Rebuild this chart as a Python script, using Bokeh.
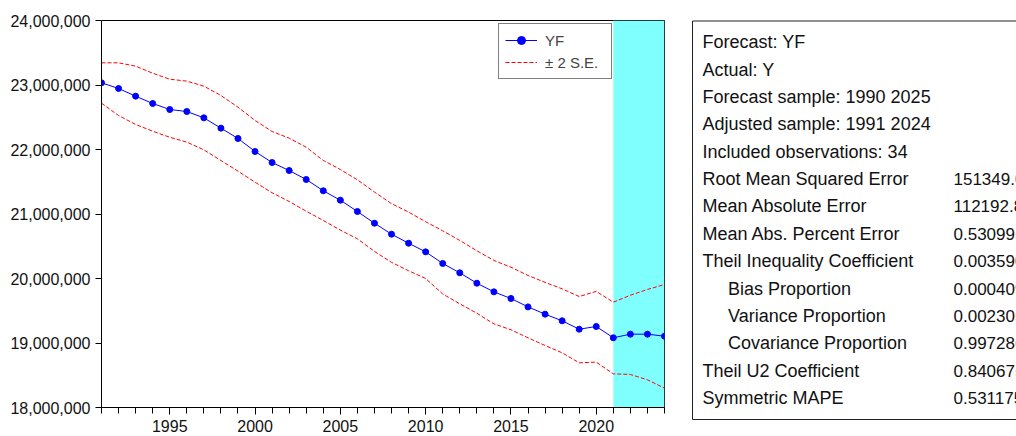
from bokeh.plotting import figure
from bokeh.layouts import row, column
from bokeh.models import (Range1d, FixedTicker, NumeralTickFormatter, BoxAnnotation,
                          Legend, LegendItem, ColumnDataSource)
from bokeh.embed import file_html
from bokeh.resources import INLINE
from bokeh.core.properties import value

FONT = "Liberation Sans"

years = list(range(1991, 2025))
yf = [23034000, 22946000, 22827000, 22713000, 22620000, 22589000, 22491000, 22331000, 22171000, 21969000,
      21798000, 21674000, 21535000, 21360000, 21214000, 21039000, 20857000, 20687000, 20547000, 20413000,
      20233000, 20088000, 19927000, 19793000, 19690000, 19560000, 19447000, 19344000, 19214000, 19256000,
      19081000, 19137000, 19137000, 19105000]
upper = [23344000, 23344000, 23292000, 23183000, 23090000, 23060000, 22982000, 22837000, 22656000, 22450000,
         22279000, 22176000, 22036000, 21830000, 21690000, 21530000, 21340000, 21160000, 21030000, 20880000,
         20740000, 20590000, 20430000, 20280000, 20175000, 20047000, 19940000, 19840000, 19720000, 19800000,
         19633000, 19740000, 19830000, 19907000]
lower = [22718000, 22527000, 22388000, 22284000, 22190000, 22114000, 21995000, 21829000, 21664000, 21493000,
         21329000, 21194000, 21043000, 20900000, 20750000, 20615000, 20420000, 20250000, 20120000, 20000000,
         19760000, 19607000, 19462000, 19297000, 19205000, 19081000, 18961000, 18848000, 18693000, 18703000,
         18522000, 18512000, 18430000, 18300000]

x_major_ticks = [1995, 2000, 2005, 2010, 2015, 2020]
y_ticks = [18000000, 19000000, 20000000, 21000000, 22000000, 23000000, 24000000]
shade_start, shade_end = 2021, 2024

legend_labels = ["YF", "\u00b1 2 S.E."]

stat_labels = ["Forecast: YF", "Actual: Y", "Forecast sample: 1990 2025", "Adjusted sample: 1991 2024",
               "Included observations: 34", "Root Mean Squared Error", "Mean Absolute Error",
               "Mean Abs. Percent Error", "Theil Inequality Coefficient", "Bias Proportion",
               "Variance Proportion", "Covariance Proportion", "Theil U2 Coefficient", "Symmetric MAPE"]
stat_indent = [0, 0, 0, 0, 0, 0, 0, 0, 0, 1, 1, 1, 0, 0]
stat_values = ["", "", "", "", "", "151349.0", "112192.8", "0.530995", "0.003590", "0.000409",
               "0.002305", "0.997286", "0.840675", "0.531175"]

# ---------------- left chart ----------------
p = figure(width=688, height=436, output_backend="svg", toolbar_location=None,
           x_range=Range1d(years[0], years[-1]), y_range=Range1d(y_ticks[0], y_ticks[-1]),
           min_border_left=101, min_border_right=24, min_border_top=20, min_border_bottom=29)
p.outline_line_color = "black"
p.outline_line_width = 1
p.xgrid.visible = False
p.ygrid.visible = False
p.background_fill_color = "white"
p.border_fill_color = "white"

p.add_layout(BoxAnnotation(left=shade_start, right=shade_end, fill_color="#80FFFF",
                           fill_alpha=1.0, line_color=None, level="underlay"))

src = ColumnDataSource(dict(x=years, yf=yf, up=upper, lo=lower))
r_up = p.line("x", "up", source=src, line_color="#FF0000", line_width=1, line_dash="4 2")
r_lo = p.line("x", "lo", source=src, line_color="#FF0000", line_width=1, line_dash="4 2")
r_line = p.line("x", "yf", source=src, line_color="#0000FF", line_width=1)
r_pts = p.scatter("x", "yf", source=src, size=6, fill_color="#0000FF", line_color="#0000FF")

p.xaxis.ticker = FixedTicker(ticks=x_major_ticks, minor_ticks=years)
p.yaxis.ticker = FixedTicker(ticks=y_ticks, minor_ticks=[])
p.yaxis.formatter = NumeralTickFormatter(format="0,0")
for ax in (p.xaxis[0], p.yaxis[0]):
    ax.axis_line_color = "black"
    ax.major_tick_line_color = "black"
    ax.minor_tick_line_color = "black"
    ax.major_tick_in = 0
    ax.minor_tick_in = 0
    ax.major_label_text_font = FONT
    ax.major_label_text_font_size = "16px"
    ax.major_label_text_color = "#111111"
p.xaxis.major_tick_out = 7
p.xaxis.minor_tick_out = 6
p.xaxis.major_label_standoff = 5
p.yaxis.major_tick_out = 6
p.yaxis.minor_tick_out = 0
p.yaxis.major_label_standoff = 5

legend = Legend(items=[LegendItem(label=legend_labels[0], renderers=[r_line, r_pts]),
                       LegendItem(label=legend_labels[1], renderers=[r_up])],
                location=(397, 328), orientation="vertical",
                label_text_font=FONT, label_text_font_size="15px",
                glyph_width=32, glyph_height=20, label_height=20, label_width=60,
                label_standoff=8, spacing=2, padding=6, margin=0,
                border_line_color="black", border_line_width=1,
                background_fill_color="white", background_fill_alpha=1.0)
p.add_layout(legend, "center")

# ---------------- right statistics box ----------------
q = figure(width=328, height=436, output_backend="svg", toolbar_location=None,
           x_range=Range1d(688, 1016), y_range=Range1d(436, 0),
           x_axis_location=None, y_axis_location=None,
           min_border_left=0, min_border_right=0, min_border_top=0, min_border_bottom=0)
q.outline_line_color = None
q.xgrid.visible = False
q.ygrid.visible = False
q.quad(left=692, right=1040, top=20.5, bottom=419, fill_color=None,
       line_color="#222222", line_width=1)

n = len(stat_labels)
row_y = [41.7 + i * 27.38 for i in range(n)]
lab_x = [702 + 25.5 * k for k in stat_indent]
q.text(x=lab_x, y=row_y, text=stat_labels, text_font=value(FONT), text_font_size="18px",
       text_baseline="middle", text_align="left", text_color="#111111")
q.text(x=[953] * n, y=row_y, text=stat_values, text_font=value(FONT), text_font_size="17px",
       text_baseline="middle", text_align="left", text_color="#111111")

layout = row(p, column(q))
open("out.html", "w").write(file_html(layout, INLINE))
